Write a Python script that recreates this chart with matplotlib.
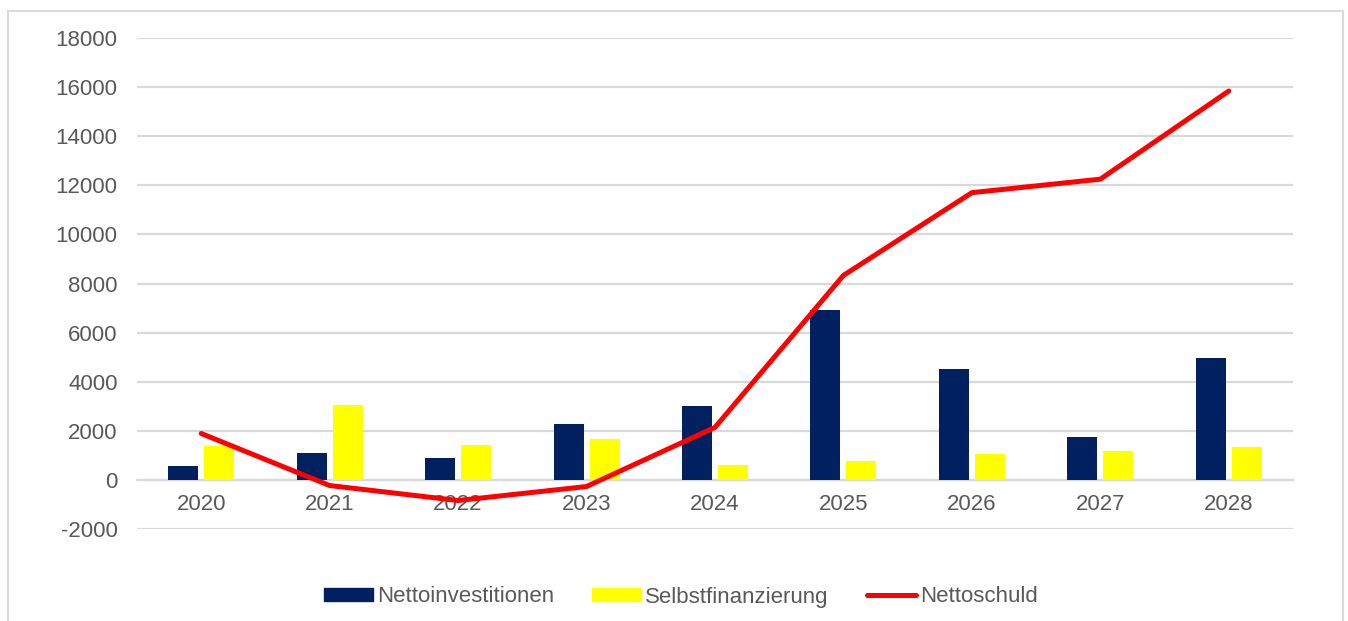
import numpy as np
import matplotlib
matplotlib.use("Agg")
import matplotlib.pyplot as plt
from matplotlib.patches import Patch, Rectangle
from matplotlib.lines import Line2D

years = ["2020", "2021", "2022", "2023", "2024", "2025", "2026", "2027", "2028"]
netto_invest = [550, 1100, 900, 2290, 3010, 6910, 4510, 1760, 4980]
selbstfin = [1370, 3060, 1440, 1670, 620, 790, 1040, 1190, 1330]
nettoschuld = [1890, -230, -840, -270, 2140, 8330, 11700, 12250, 15840]

NAVY = "#002060"
YELLOW = "#FFFF00"
RED = "#FF0000"
GRID = "#D9D9D9"
TEXT = "#595959"

plt.rcParams["font.family"] = ["Liberation Sans", "DejaVu Sans"]
plt.rcParams["axes.unicode_minus"] = False

fig = plt.figure(figsize=(13.48, 6.21), dpi=100)
W, H = 1348, 621
ax = fig.add_axes([137 / W, 1 - 529 / H, (1293 - 137) / W, (529 - 38) / H])

# chart area border
fig.patches.append(Rectangle((8 / W, -0.05), (1343 - 8) / W, 1 - 11 / H + 0.05,
                             transform=fig.transFigure, fill=False,
                             edgecolor=GRID, linewidth=1.5))

x = np.arange(len(years))
bw = 0.234
off = 0.14
ax.bar(x - off, netto_invest, width=bw, color=NAVY, zorder=3)
ax.bar(x + off, selbstfin, width=bw, color=YELLOW, zorder=3)
ax.plot(x, nettoschuld, color=RED, linewidth=3.6, solid_capstyle="round",
        solid_joinstyle="miter", zorder=4)

ax.set_xlim(-0.5, len(years) - 0.5)
ax.set_ylim(-2000, 18000)
ax.set_yticks(range(-2000, 18001, 2000))
ax.yaxis.grid(True, color=GRID, linewidth=1.6, zorder=0)
ax.set_axisbelow(True)

for s in ["top", "right", "left"]:
    ax.spines[s].set_visible(False)
ax.spines["bottom"].set_position(("data", 0))
ax.spines["bottom"].set_color(GRID)
ax.spines["bottom"].set_linewidth(1.6)

ax.set_xticks(x)
ax.set_xticklabels(years)
ax.tick_params(axis="x", length=0, pad=10, labelsize=16, labelcolor=TEXT)
ax.tick_params(axis="y", length=0, pad=14, labelsize=16, labelcolor=TEXT)

handles = [
    Patch(facecolor=NAVY, edgecolor=NAVY),
    Patch(facecolor=YELLOW, edgecolor=YELLOW),
    Line2D([0], [0], color=RED, linewidth=3.6, solid_capstyle="round"),
]
labels = ["Nettoinvestitionen", "Selbstfinanzierung", "Nettoschuld"]
leg = fig.legend(handles, labels, loc="center", bbox_to_anchor=(0.505, 1 - 597 / H),
                 ncol=3, frameon=False, fontsize=16, handlelength=2.2,
                 handleheight=0.55, handletextpad=0.2, columnspacing=1.7)
for t in leg.get_texts():
    t.set_color(TEXT)

fig.savefig("out.png", dpi=100, facecolor="white")
